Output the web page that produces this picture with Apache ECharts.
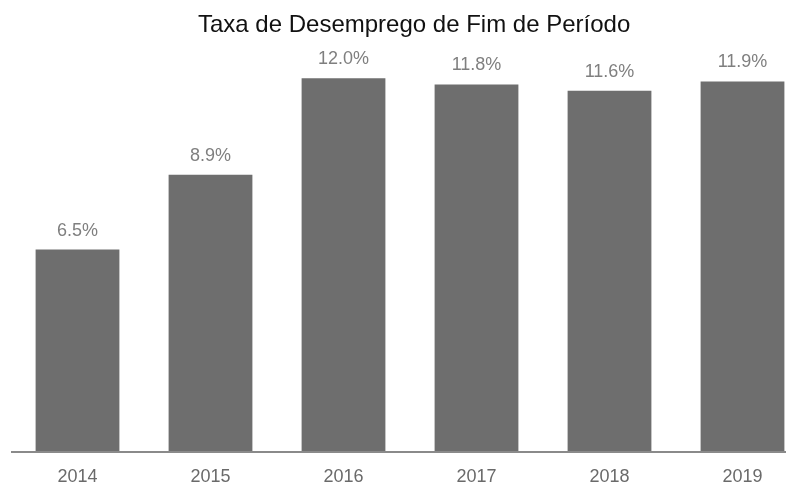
<!DOCTYPE html>
<html>
<head>
<meta charset="utf-8">
<script src="https://cdn.jsdelivr.net/npm/echarts@6/dist/echarts.min.js"></script>
<style>
  html, body { margin: 0; padding: 0; background: #fff; }
  #chart { width: 796px; height: 482px; }
</style>
</head>
<body>
<div id="chart"></div>
<script>
// Year-end unemployment rate (%)
const years = ['2014', '2015', '2016', '2017', '2018', '2019'];
const rates = [6.5, 8.9, 12.0, 11.8, 11.6, 11.9];

const chart = echarts.init(document.getElementById('chart'));

const gridLeft = 11, gridTop = 16, gridBottom = 30, gridRight = -13;
const baseY = 482 - gridBottom;

chart.setOption({
  animation: false,
  title: {
    text: 'Taxa de Desemprego de Fim de Período',
    left: 193,
    top: 8,
    textStyle: { fontFamily: 'Arial, Liberation Sans', fontSize: 24, fontWeight: 'normal', color: '#111' }
  },
  grid: {
    left: gridLeft, top: gridTop, bottom: gridBottom, right: gridRight,
    containLabel: false, outerBoundsMode: 'none'
  },
  xAxis: {
    type: 'category',
    data: years,
    axisLine: { show: false },
    axisTick: { show: false },
    axisLabel: { fontFamily: 'Arial, Liberation Sans', fontSize: 18, color: '#6a6a6a', margin: 16 }
  },
  yAxis: {
    type: 'value',
    min: 0,
    max: 14,
    show: false,
    splitLine: { show: false }
  },
  series: [{
    type: 'bar',
    data: rates,
    barWidth: '63%',
    itemStyle: { color: '#6e6e6e' },
    label: {
      show: true,
      position: 'top',
      distance: 10,
      fontFamily: 'Arial, Liberation Sans',
      fontSize: 18,
      color: '#7f7f7f',
      formatter: p => p.value.toFixed(1) + '%'
    }
  }],
  graphic: [{
    type: 'line',
    shape: { x1: gridLeft, y1: baseY, x2: 786, y2: baseY },
    style: { stroke: '#8a8a8a', lineWidth: 2 },
    z: 10
  }]
});
</script>
</body>
</html>
